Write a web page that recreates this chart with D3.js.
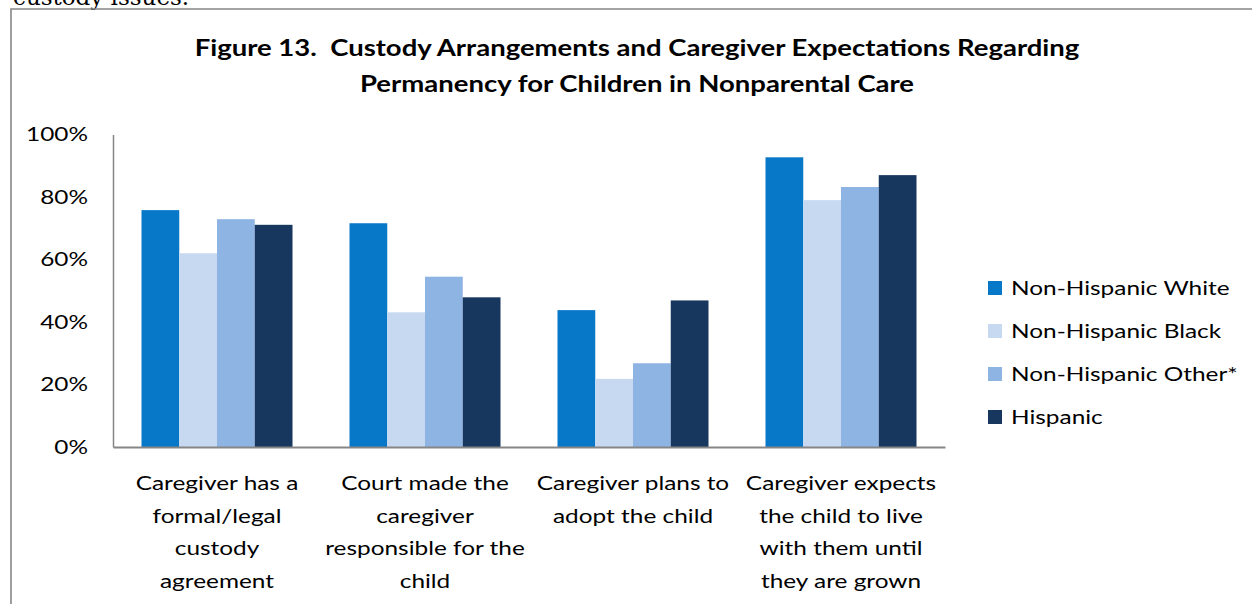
<!DOCTYPE html>
<html>
<head>
<meta charset="utf-8">
<script src="https://cdn.jsdelivr.net/npm/d3@7"></script>
<style>
  body { margin: 0; background: #fff; }
  svg { display: block; }
</style>
</head>
<body>
<div id="chart"></div>
<script>
// data
var categories = [
  ["Caregiver has a", "formal/legal", "custody", "agreement"],
  ["Court made the", "caregiver", "responsible for the", "child"],
  ["Caregiver plans to", "adopt the child"],
  ["Caregiver expects", "the child to live", "with them until", "they are grown"]
];
var seriesNames = ["Non-Hispanic White", "Non-Hispanic Black", "Non-Hispanic Other*", "Hispanic"];
var seriesColors = ["#0777C7", "#C6D9F1", "#8EB4E3", "#17375E"];
var whiteVals    = [75.8, 71.6, 43.8, 92.7];
var blackVals    = [62.0, 43.1, 21.8, 79.0];
var otherVals    = [72.9, 54.5, 26.8, 83.2];
var hispanicVals = [71.1, 47.9, 46.9, 87.0];
var yTicks = [0, 20, 40, 60, 80, 100];
var titleLines = ["Figure 13.  Custody Arrangements and Caregiver Expectations Regarding",
                  "Permanency for Children in Nonparental Care"];

var allSeries = [whiteVals, blackVals, otherVals, hispanicVals];

var W = 1252, H = 604;
var margin = {top: 134.5, left: 113, right: 307, bottom: 157};
var width = W - margin.left - margin.right,
    height = H - margin.top - margin.bottom;

// the figure text is a bit wider than Lato, so stretch it sideways
var SX = 1.22, SX_BOLD = 1.25;
function stretch(sel, sx) {
  sel.each(function() {
    var t = d3.select(this);
    var x = +t.attr("x") || 0, y = +t.attr("y") || 0;
    t.attr("transform", `translate(${x},${y}) scale(${sx},1)`)
      .attr("x", 0).attr("y", 0);
  });
}

var svg = d3.select("#chart")
  .append("svg")
    .attr("width", W)
    .attr("height", H)
    .style("font-family", "Lato, 'Open Sans', sans-serif");

// bit of body text cut off above the figure
svg.append("text")
  .attr("x", 13)
  .attr("y", 5)
  .style("font-family", "'DejaVu Serif', serif")
  .style("font-size", "23px")
  .attr("fill", "#000")
  .text("custody issues.");

// figure frame (runs off the right and bottom)
svg.append("path")
  .attr("d", `M11,${H + 5} L11,9 L${W + 5},9`)
  .attr("fill", "none")
  .attr("stroke", "#878787")
  .attr("stroke-width", 1.6);

// title
svg.selectAll("text.title")
  .data(titleLines)
  .join("text")
    .attr("class", "title")
    .attr("x", 637)
    .attr("y", (d, i) => 56 + i * 36)
    .attr("text-anchor", "middle")
    .style("font-size", "22px")
    .style("font-weight", "bold")
    .style("white-space", "pre")
    .attr("fill", "#000")
    .text(d => d)
    .call(stretch, SX_BOLD);

var g = svg.append("g")
  .attr("transform", `translate(${margin.left}, ${margin.top})`);

var x0 = d3.scaleBand()
  .domain(d3.range(categories.length))
  .range([0, width])
  .paddingInner(0.274)
  .paddingOuter(0.137);

var x1 = d3.scaleBand()
  .domain(d3.range(seriesNames.length))
  .range([0, x0.bandwidth()]);

var y = d3.scaleLinear()
  .domain([0, 100])
  .range([height, 0]);

// bars
var groups = g.selectAll("g.cat")
  .data(categories)
  .join("g")
    .attr("class", "cat")
    .attr("transform", (d, i) => `translate(${x0(i)}, 0)`);

groups.selectAll("rect")
  .data((d, i) => allSeries.map((s, j) => ({s: j, v: s[i]})))
  .join("rect")
    .attr("x", d => x1(d.s))
    .attr("y", d => y(d.v))
    .attr("width", x1.bandwidth())
    .attr("height", d => height - y(d.v))
    .attr("fill", d => seriesColors[d.s]);

// Y axis
var yAxis = g.append("g")
  .call(d3.axisLeft(y).tickValues(yTicks).tickFormat(d => d + "%").tickSize(0).tickSizeOuter(0).tickPadding(25));
yAxis.select(".domain").attr("stroke", "#868686").attr("stroke-width", 1.5);
yAxis.selectAll(".tick text")
  .style("font-size", "20px")
  .style("font-family", "Lato, sans-serif")
  .attr("fill", "#000")
  .call(stretch, SX);

// X axis
var xAxis = g.append("g")
  .attr("transform", `translate(0, ${height})`)
  .call(d3.axisBottom(x0).tickSize(0).tickSizeOuter(0).tickFormat(""));
xAxis.select(".domain").attr("stroke", "#868686").attr("stroke-width", 2);
xAxis.selectAll(".tick text").remove();
xAxis.selectAll(".tick")
  .selectAll("text.lbl")
  .data(i => categories[i])
  .join("text")
    .attr("class", "lbl")
    .attr("x", 0)
    .attr("y", (d, i) => 43 + i * 32.5)
    .attr("text-anchor", "middle")
    .attr("fill", "#000")
    .style("font-size", "20px")
    .style("font-family", "Lato, sans-serif")
    .text(d => d)
    .call(stretch, SX);

// legend
var legend = svg.append("g")
  .attr("transform", "translate(988, 288)");
var items = legend.selectAll("g")
  .data(seriesNames)
  .join("g")
    .attr("transform", (d, i) => `translate(0, ${i * 43})`);
items.append("rect")
  .attr("x", 0)
  .attr("y", -7)
  .attr("width", 14)
  .attr("height", 14)
  .attr("fill", (d, i) => seriesColors[i]);
items.append("text")
  .attr("x", 23)
  .attr("y", 7)
  .style("font-size", "20px")
  .attr("fill", "#000")
  .text(d => d)
  .call(stretch, SX);
</script>
</body>
</html>
